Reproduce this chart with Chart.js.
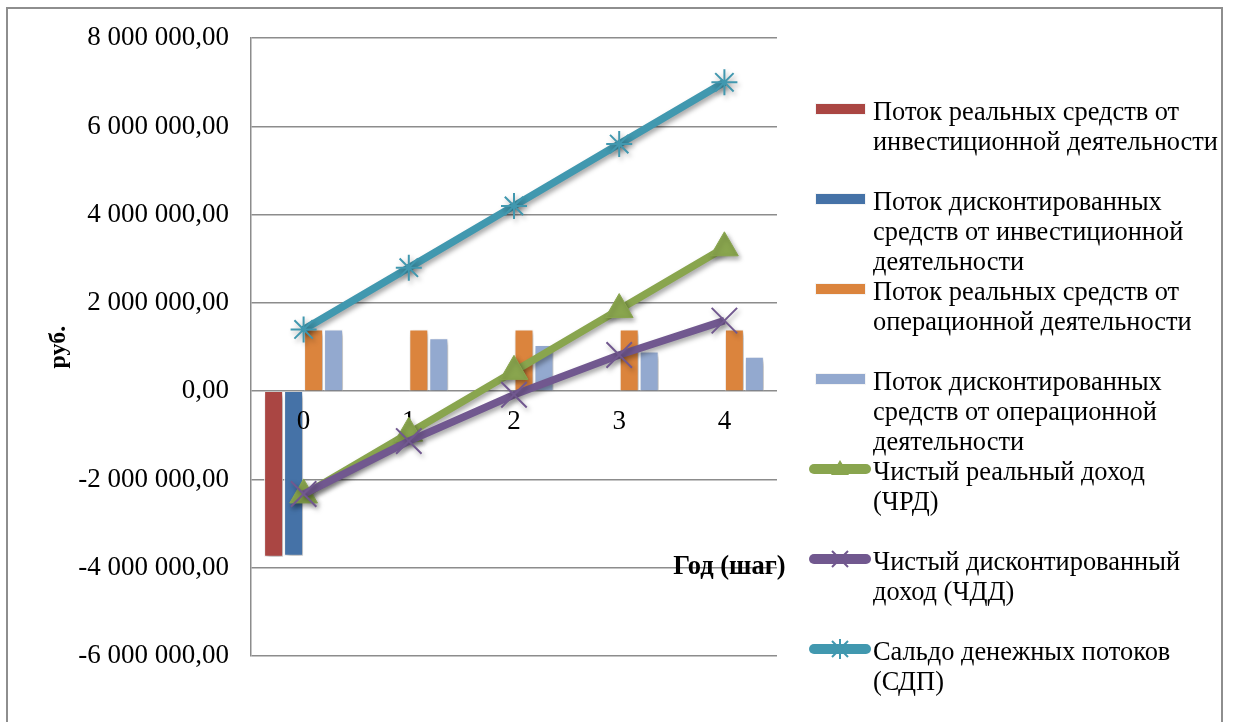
<!DOCTYPE html>
<html lang="ru">
<head>
<meta charset="utf-8">
<title>Денежные потоки проекта</title>
<script src="https://cdn.jsdelivr.net/npm/chart.js@4/dist/chart.umd.min.js"></script>
<style>
  html, body { margin: 0; padding: 0; background: #fff; }
  #wrap { position: relative; width: 1235px; height: 722px; overflow: hidden; background: #fff; }
  #frame { position: absolute; left: 6px; top: 7px; width: 1217px; height: 760px; border: 2px solid #8e8e8e; box-sizing: border-box; }
  #c { position: absolute; left: 0; top: 0; }
  #legend { position: absolute; left: 0; top: 0; font-family: "Liberation Serif", "Times New Roman", serif; font-size: 26.4px; color: #000; }
  .item { position: absolute; left: 808px; width: 420px; }
  .item svg { position: absolute; left: 0; }
  .item .txt { position: absolute; left: 65px; white-space: pre; line-height: 30px; }
</style>
</head>
<body>
<div id="wrap">
  <div id="frame"></div>
  <canvas id="c" width="1235" height="722"></canvas>
  <div id="legend"></div>
</div>
<script>
// Годы (шаги расчёта)
const years = ['0', '1', '2', '3', '4'];

// Потоки по шагам, руб.
const investReal = [-3750000, null, null, null, null];
const investDisc = [-3730000, null, null, null, null];
const operReal   = [1400000, 1400000, 1400000, 1400000, 1400000];
const operDisc   = [1400000, 1200000, 1050000, 900000, 780000];
const netReal    = [-2350000, -950000, 450000, 1850000, 3250000];
const netDisc    = [-2330000, -1130000, -80000, 820000, 1600000];
const balance    = [1400000, 2800000, 4200000, 5600000, 7000000];

// Деления вертикальной оси
const yMin = -6000000, yMax = 8000000, yStep = 2000000;

const seriesNames = [
  'Поток реальных средств от\nинвестиционной деятельности',
  'Поток дисконтированных\nсредств от инвестиционной\nдеятельности',
  'Поток реальных средств от\nоперационной деятельности',
  'Поток дисконтированных\nсредств от операционной\nдеятельности',
  'Чистый реальный доход\n(ЧРД)',
  'Чистый дисконтированный\nдоход (ЧДД)',
  'Сальдо денежных потоков\n(СДП)'
];
const colors = ['#AA4643', '#4572A7', '#DB843D', '#93A9CF', '#89A54E', '#71588F', '#4198AF'];

const SERIF = '"Liberation Serif", "Times New Roman", serif';

function fmtRub(v) {
  const parts = Math.abs(v).toFixed(2).split('.');
  const intPart = parts[0].replace(/\B(?=(\d{3})+(?!\d))/g, ' ');
  return (v < 0 ? '-' : '') + intPart + ',' + parts[1];
}

// Подписи лет рисуются поверх столбцов, но под линиями
function drawYearLabels(chart) {
  const ctx = chart.ctx;
  const xs = chart.scales.x, ys = chart.scales.y;
  const y0 = ys.getPixelForValue(0);
  ctx.save();
  ctx.font = '27px ' + SERIF;
  ctx.fillStyle = '#000';
  ctx.textAlign = 'center';
  ctx.textBaseline = 'middle';
  years.forEach((lab, i) => ctx.fillText(lab, xs.getPixelForTick(i), y0 + 31));
  ctx.restore();
}

// Мягкая тень под столбцами и линиями
const shadowPlugin = {
  id: 'shadow',
  beforeDatasetDraw(chart) {
    const ctx = chart.ctx;
    ctx.save();
    ctx.shadowColor = 'rgba(0,0,0,0.35)';
    ctx.shadowBlur = 5;
    ctx.shadowOffsetX = 2;
    ctx.shadowOffsetY = 3;
  },
  afterDatasetDraw(chart, args) {
    chart.ctx.restore();
    if (args.index === 0) drawYearLabels(chart);
  }
};

// Подпись горизонтальной оси
const xTitlePlugin = {
  id: 'xTitle',
  afterDraw(chart) {
    const ctx = chart.ctx;
    const xs = chart.scales.x, ys = chart.scales.y;
    ctx.save();
    ctx.font = 'bold 26.5px ' + SERIF;
    ctx.fillStyle = '#000';
    ctx.textAlign = 'center';
    ctx.textBaseline = 'middle';
    const x = xs.getPixelForValue(4) + 5;
    const y = ys.getPixelForValue(-4000000) - 1;
    ctx.fillText('Год (шаг)', x, y);
    ctx.restore();
  }
};

const barCommon = { borderColor: '#ffffff', borderWidth: 1, order: 10, categoryPercentage: 0.76, barPercentage: 0.95 };

const datasets = [
  Object.assign({ type: 'bar', label: seriesNames[0], data: investReal, backgroundColor: colors[0] }, barCommon),
  Object.assign({ type: 'bar', label: seriesNames[1], data: investDisc, backgroundColor: colors[1] }, barCommon),
  Object.assign({ type: 'bar', label: seriesNames[2], data: operReal, backgroundColor: colors[2] }, barCommon),
  Object.assign({ type: 'bar', label: seriesNames[3], data: operDisc, backgroundColor: colors[3] }, barCommon),
  { type: 'line', label: seriesNames[4], data: netReal, borderColor: colors[4], backgroundColor: colors[4],
    borderWidth: 7.5, pointStyle: 'triangle', pointRadius: 16, pointBorderWidth: 1, pointBorderColor: colors[4],
    pointBackgroundColor: colors[4], order: 3, tension: 0 },
  { type: 'line', label: seriesNames[5], data: netDisc, borderColor: colors[5], backgroundColor: colors[5],
    borderWidth: 7.5, pointStyle: 'crossRot', pointRadius: 18, pointBorderWidth: 2, pointBorderColor: colors[5],
    order: 2, tension: 0 },
  { type: 'line', label: seriesNames[6], data: balance, borderColor: colors[6], backgroundColor: colors[6],
    borderWidth: 7.5, pointStyle: 'star', pointRadius: 13, pointBorderWidth: 2, pointBorderColor: colors[6],
    order: 1, tension: 0 }
];

const chart = new Chart(document.getElementById('c'), {
  type: 'bar',
  data: { labels: years, datasets: datasets },
  options: {
    responsive: false,
    animation: false,
    layout: { padding: { left: 8, top: 37, right: 458, bottom: 66 } },
    plugins: { legend: { display: false }, tooltip: { enabled: false } },
    scales: {
      x: {
        position: { y: 0 },
        grid: { display: false },
        border: { display: false },
        ticks: { display: false }
      },
      y: {
        min: yMin, max: yMax,
        ticks: { stepSize: yStep, color: '#000', font: { family: SERIF, size: 27 }, padding: 22,
                 callback: (v) => fmtRub(v) },
        grid: { color: '#8c8c8c', lineWidth: 1.5, drawTicks: false },
        border: { display: true, color: '#8c8c8c', width: 1.5 },
        title: { display: true, text: 'руб.', color: '#000', font: { family: SERIF, size: 24, weight: 'bold' },
                 padding: { top: 36, bottom: 0 } },
        afterFit(scale) { scale.width = 243; }
      }
    }
  },
  plugins: [shadowPlugin, xTitlePlugin]
});

// Легенда справа от области построения
const legend = document.getElementById('legend');
const markerKinds = ['bar', 'bar', 'bar', 'bar', 'triangle', 'cross', 'star'];
function markerSvg(kind, color) {
  let s = '<svg width="64" height="24" viewBox="0 0 64 24">';
  if (kind === 'bar') {
    s += '<rect x="7.5" y="6.5" width="50" height="11" fill="' + color + '" stroke="#f4f4f4" stroke-width="1"/>';
  } else {
    s += '<line x1="6" y1="12" x2="58" y2="12" stroke="' + color + '" stroke-width="10" stroke-linecap="round"/>';
    if (kind === 'triangle') {
      s += '<polygon points="32,3 41,18 23,18" fill="' + color + '"/>';
    } else if (kind === 'cross') {
      s += '<path d="M24 4 L40 20 M40 4 L24 20" stroke="' + color + '" stroke-width="2"/>';
    } else {
      s += '<path d="M24 4 L40 20 M40 4 L24 20 M32 2 L32 22" stroke="' + color + '" stroke-width="2"/>';
    }
  }
  return s + '</svg>';
}
seriesNames.forEach((name, i) => {
  const lineCenter = 111 + 90 * i;
  const item = document.createElement('div');
  item.className = 'item';
  item.style.top = (lineCenter - 15) + 'px';
  item.innerHTML = markerSvg(markerKinds[i], colors[i]);
  item.querySelector('svg').style.top = (15 - 2 - 12) + 'px';
  const txt = document.createElement('div');
  txt.className = 'txt';
  txt.textContent = name;
  item.appendChild(txt);
  legend.appendChild(item);
});
</script>
</body>
</html>
